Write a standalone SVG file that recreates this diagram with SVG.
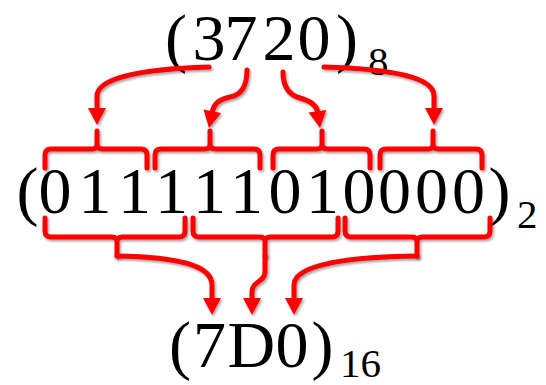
<svg xmlns="http://www.w3.org/2000/svg" width="546" height="385" viewBox="0 0 546 385">
<style>
.t{font-family:"Liberation Serif","Times New Roman",serif;fill:#000}
.main{font-size:66px}
.sub{font-size:41px}
.ln{fill:none;stroke:#ff0000;stroke-width:5;stroke-linecap:round;stroke-linejoin:round}
.hd{fill:#ff0000}
</style>
<defs>
<filter id="sh" x="-10%" y="-10%" width="120%" height="130%">
<feDropShadow dx="1.5" dy="2" stdDeviation="1.3" flood-color="#000" flood-opacity="0.35"/>
</filter>
</defs>
<rect width="546" height="385" fill="#fff"/>
<g id="node-octal">
<text class="t main" x="165 192.5 224.5 262.5 297.5 336" y="60">(3720)</text>
<text class="t sub" x="368" y="75">8</text>
</g>
<g id="node-binary">
<text class="t main" x="16.5 38.5 78.5 118 155 193 230 268.5 306 342.5 378 415 452 488.5" y="213">(011111010000)</text>
<text class="t sub" x="517" y="228">2</text>
</g>
<g id="node-hex">
<text class="t main" x="169 193 227.6 275.5 311.5" y="367">(7D0)</text>
<text class="t sub" x="340" y="377">16</text>
</g>
<g id="braces" filter="url(#sh)">
<path class="ln" d="M45,168 L45,155 Q45,149 51,149 L92,149 Q97,149 97,144 L97,131 M97,144 Q97,149 102,149 L141,149 Q147,149 147,155 L147,168"/>
<path class="ln" d="M155,168 L155,155 Q155,149 161,149 L205,149 Q210,149 210,144 L210,131 M210,144 Q210,149 215,149 L254,149 Q260,149 260,155 L260,168"/>
<path class="ln" d="M273,168 L273,155 Q273,149 279,149 L317,149 Q322,149 322,144 L322,131 M322,144 Q322,149 327,149 L364,149 Q370,149 370,155 L370,168"/>
<path class="ln" d="M380,168 L380,155 Q380,149 386,149 L428,149 Q433,149 433,144 L433,131 M433,144 Q433,149 438,149 L476,149 Q482,149 482,155 L482,168"/>
<path class="ln" d="M45,218 L45,231 Q45,237 51,237 L112,237 Q117,237 117,242 L117,256 M117,242 Q117,237 122,237 L179,237 Q185,237 185,231 L185,218"/>
<path class="ln" d="M193,218 L193,231 Q193,237 199,237 L260,237 Q265,237 265,242 L265,256 M265,242 Q265,237 270,237 L332,237 Q338,237 338,231 L338,218"/>
<path class="ln" d="M345,218 L345,231 Q345,237 351,237 L412,237 Q417,237 417,242 L417,256 M417,242 Q417,237 422,237 L484,237 Q490,237 490,231 L490,218"/>
</g>
<g id="connectors" filter="url(#sh)">
<path class="ln" d="M209,67 C140,69 97,78 97,96 L97,109"/>
<polygon class="hd" points="88,108 106,108 97,125"/>
<path class="ln" d="M247,70 C247,86 242,95 230,97 C219,99 214,104 212.5,111"/>
<polygon class="hd" points="209,128 203.5,109.5 221.1,113.1"/>
<path class="ln" d="M283,72 C283,87 289,95 300,98 C311,101 316,105 317.5,111"/>
<polygon class="hd" points="320,128 308.6,112.5 326.4,109.9"/>
<path class="ln" d="M324,67 C395,69 434,78 434,96 L434,109"/>
<polygon class="hd" points="425,108 443,108 434,125"/>
<path class="ln" d="M117,256 C180,257 212,266 212,285 L212,299"/>
<polygon class="hd" points="203,298 221,298 212,315"/>
<path class="ln" d="M265,256 L265,272 C265,282 252,281 252,292 L252,299"/>
<polygon class="hd" points="243,298 261,298 252,315"/>
<path class="ln" d="M417,256 C340,257 294,266 294,285 L294,299"/>
<polygon class="hd" points="285,298 303,298 294,315"/>
</g>
</svg>
